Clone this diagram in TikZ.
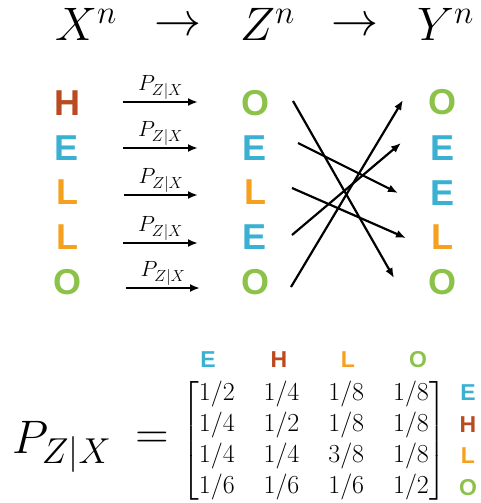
\RequirePackage{fix-cm}
\documentclass[tikz,border=0pt]{standalone}
\usepackage{amsmath}
\usepackage{fontspec}
\setsansfont{Liberation Sans}
\usetikzlibrary{arrows.meta}
\definecolor{cH}{HTML}{BA4A1F}
\definecolor{cE}{HTML}{3AB0D2}
\definecolor{cL}{HTML}{F5A11F}
\definecolor{cO}{HTML}{8CC24A}
\newcommand{\pzx}[2]{\fontsize{#1}{#1}\selectfont$P_{\mbox{\fontsize{#2}{#2}\selectfont$Z|X$}}$}
\tikzset{
  bigletter/.style={font=\fontsize{36}{36}\sffamily\bfseries\selectfont, inner sep=0pt},
  smallletter/.style={font=\fontsize{23}{23}\sffamily\bfseries\selectfont, inner sep=0pt},
  arr/.style={line width=2.2pt, -{Latex[length=10pt,width=8pt]}},
  lab/.style={inner sep=1.5pt, anchor=south},
  topmath/.style={font=\fontsize{47}{47}\selectfont, inner sep=0pt},
}
\begin{document}
\begin{tikzpicture}[x=1pt,y=-1pt]
\useasboundingbox (0,0) rectangle (480,503);
% top row
\node[topmath, anchor=base west] (X) at (55,41) {$X^n$};
\node[topmath] (r1) at (178,27) {$\rightarrow$};
\node[topmath, anchor=base west] (Z) at (240,41) {$Z^n$};
\node[topmath] (r2) at (355,27) {$\rightarrow$};
\node[topmath, anchor=base west] (Y) at (417,41) {$Y^n$};
% left column
\node[bigletter, text=cH] (x1) at (67,103) {H};
\node[bigletter, text=cE] (x2) at (67,148) {E};
\node[bigletter, text=cL] (x3) at (67,192) {L};
\node[bigletter, text=cL] (x4) at (67,237) {L};
\node[bigletter, text=cO] (x5) at (67,282) {O};
% middle column
\node[bigletter, text=cO] (z1) at (255,103) {O};
\node[bigletter, text=cE] (z2) at (255,148) {E};
\node[bigletter, text=cL] (z3) at (255,192) {L};
\node[bigletter, text=cE] (z4) at (255,237) {E};
\node[bigletter, text=cO] (z5) at (255,282) {O};
% right column
\node[bigletter, text=cO] (y1) at (442,102) {O};
\node[bigletter, text=cE] (y2) at (442,148) {E};
\node[bigletter, text=cE] (y3) at (442,193) {E};
\node[bigletter, text=cL] (y4) at (442,237) {L};
\node[bigletter, text=cO] (y5) at (442,282) {O};
% channel arrows
\coordinate (a1) at (123,102); \coordinate (b1) at (198,102);
\coordinate (a2) at (123,148); \coordinate (b2) at (198,148);
\coordinate (a3) at (124,195); \coordinate (b3) at (198,195);
\coordinate (a4) at (123,243); \coordinate (b4) at (198,243);
\coordinate (a5) at (126,288); \coordinate (b5) at (200,288);
\foreach \i in {1,...,5}{
  \draw[arr] (a\i) -- node[lab] {\pzx{22}{16}} (b\i);
}
% permutation arrows
\coordinate (p1) at (293,101); \coordinate (q1) at (394,278);
\coordinate (p2) at (298,143); \coordinate (q2) at (398,193);
\coordinate (p3) at (292,188); \coordinate (q3) at (406,238);
\coordinate (p4) at (292,235); \coordinate (q4) at (401,143);
\coordinate (p5) at (291,287); \coordinate (q5) at (403,100);
\foreach \i in {1,...,5}{
  \draw[arr] (p\i) -- (q\i);
}
% matrix
\node[inner sep=0pt, anchor=base west] (PL) at (12,453) {\pzx{47}{36}};
\node[inner sep=0pt, font=\fontsize{46}{46}\selectfont] (eq) at (152,440) {$=$};
\node[inner sep=0pt] (M) at (314,441) {\fontsize{26}{31}\selectfont\setlength{\arraycolsep}{14.5pt}$\begin{bmatrix}
1/2 & 1/4 & 1/8 & 1/8\\
1/4 & 1/2 & 1/8 & 1/8\\
1/4 & 1/4 & 3/8 & 1/8\\
1/6 & 1/6 & 1/6 & 1/2
\end{bmatrix}$};
\node[smallletter, text=cE] (hE) at (208,360) {E};
\node[smallletter, text=cH] (hH) at (279,360) {H};
\node[smallletter, text=cL] (hL) at (348,360) {L};
\node[smallletter, text=cO] (hO) at (418,360) {O};
\node[smallletter, text=cE] (vE) at (468,393) {E};
\node[smallletter, text=cH] (vH) at (468,425) {H};
\node[smallletter, text=cL] (vL) at (468,456) {L};
\node[smallletter, text=cO] (vO) at (468,488) {O};
\end{tikzpicture}
\end{document}
